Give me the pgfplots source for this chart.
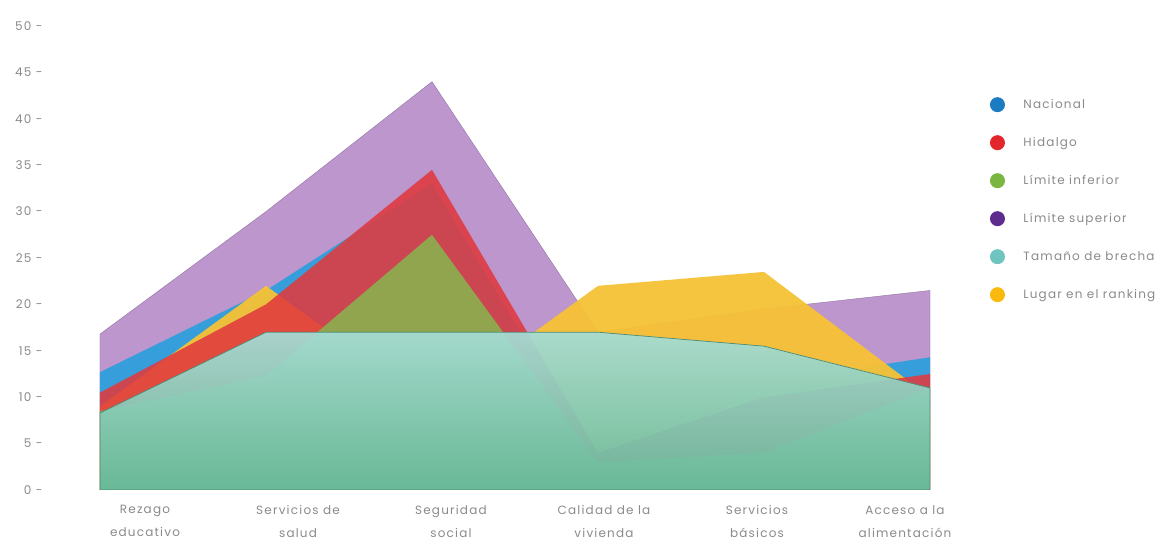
\documentclass[border=0pt]{standalone}
\usepackage{fontspec}
\setmainfont{Poppins}[LetterSpace=10]
\usepackage{pgfplots}
\pgfplotsset{compat=1.18}
\usepackage{pgfplotstable}

\definecolor{txtgray}{HTML}{8A8A8A}
\definecolor{fpur}{HTML}{B890CA}
\definecolor{fnac}{HTML}{2FA0DC}
\definecolor{flug}{HTML}{F6C235}
\definecolor{fhid}{HTML}{E03A3E}
\definecolor{finf}{HTML}{8EAA4E}
\definecolor{fbretop}{HTML}{A5DDD6}
\definecolor{fbrebot}{HTML}{66BA9C}
\definecolor{lnac}{HTML}{1B7CC4}
\definecolor{lhid}{HTML}{E3262B}
\definecolor{linf}{HTML}{7CB642}
\definecolor{lsup}{HTML}{5E2C8C}
\definecolor{lbre}{HTML}{6EC5C0}
\definecolor{llug}{HTML}{F9B90F}

% x: 0 Rezago ... 5 Acceso
\pgfplotstableread{
x   sup   nac   lug   hid   inf   bre
0   16.8  12.7  9     10.5  8.5   8.3
1   30    21.5  22    20    12.3  17
2   44    33    9     34.5  27.5  17
3   17    3     22    4     3     17
4   19.5  11.6  23.5  10    4     15.5
5   21.5  14.3  10    12.5  11    11
}\datos

\begin{document}
\begin{tikzpicture}
\begin{axis}[name=ax,
    width=830pt, height=464pt, scale only axis,
    xmin=0, xmax=5, ymin=0, ymax=50,
    axis line style={draw=none},
    major tick length=0pt,
    xtick={0.271,1.193,2.114,3.036,3.958,4.849},
    xticklabels={{Rezago\\educativo},{Servicios de\\salud},{Seguridad\\social},
                 {Calidad de la\\vivienda},{Servicios\\básicos},{Acceso a la\\alimentación}},
    xticklabel style={align=center, font=\fontsize{12}{23}\selectfont, text=txtgray, yshift=-12pt},
    ytick={0,5,...,50},
    yticklabels={0 -,5 -,10 -,15 -,20 -,25 -,30 -,35 -,40 -,45 -,50 -},
    yticklabel style={font=\fontsize{12}{14}\selectfont, text=txtgray, xshift=-54pt},
    legend cell align=left,
    legend style={at={(1.072,0.847)}, anchor=north west, draw=none, fill=none,
        font=\fontsize{12}{14}\selectfont, text=txtgray, row sep=23pt, inner sep=0pt},
  ]
  \addlegendimage{draw=none, legend image code/.code={\fill[lnac] (7pt,0pt) circle (7.5pt); \path[draw=none] (0pt,0pt) -- (31pt,0pt);}}
  \addlegendimage{draw=none, legend image code/.code={\fill[lhid] (7pt,0pt) circle (7.5pt); \path[draw=none] (0pt,0pt) -- (31pt,0pt);}}
  \addlegendimage{draw=none, legend image code/.code={\fill[linf] (7pt,0pt) circle (7.5pt); \path[draw=none] (0pt,0pt) -- (31pt,0pt);}}
  \addlegendimage{draw=none, legend image code/.code={\fill[lsup] (7pt,0pt) circle (7.5pt); \path[draw=none] (0pt,0pt) -- (31pt,0pt);}}
  \addlegendimage{draw=none, legend image code/.code={\fill[lbre] (7pt,0pt) circle (7.5pt); \path[draw=none] (0pt,0pt) -- (31pt,0pt);}}
  \addlegendimage{draw=none, legend image code/.code={\fill[llug] (7pt,0pt) circle (7.5pt); \path[draw=none] (0pt,0pt) -- (31pt,0pt);}}

  \addplot[forget plot, draw=fpur!80!black, fill=fpur, fill opacity=0.95] table[x=x,y=sup]{\datos} \closedcycle;
  \addplot[forget plot, draw=none, fill=fnac, fill opacity=0.95] table[x=x,y=nac]{\datos} \closedcycle;
  \addplot[forget plot, draw=none, fill=flug, fill opacity=0.95] table[x=x,y=lug]{\datos} \closedcycle;
  \addplot[forget plot, draw=none, fill=fhid, fill opacity=0.88] table[x=x,y=hid]{\datos} \closedcycle;
  \addplot[forget plot, draw=none, fill=finf, fill opacity=0.95] table[x=x,y=inf]{\datos} \closedcycle;
  \addplot[forget plot, draw=fbrebot!75!black, line width=0.7pt, top color=fbretop, bottom color=fbrebot, fill opacity=0.93] table[x=x,y=bre]{\datos} \closedcycle;

  \legend{Nacional, Hidalgo, Límite inferior, Límite superior, Tamaño de brecha, Lugar en el ranking}
\end{axis}
\pgfresetboundingbox
\path[use as bounding box] ([xshift=-100pt,yshift=-54pt]ax.south west) rectangle ([xshift=239pt,yshift=26pt]ax.north east);
\end{tikzpicture}
\end{document}
